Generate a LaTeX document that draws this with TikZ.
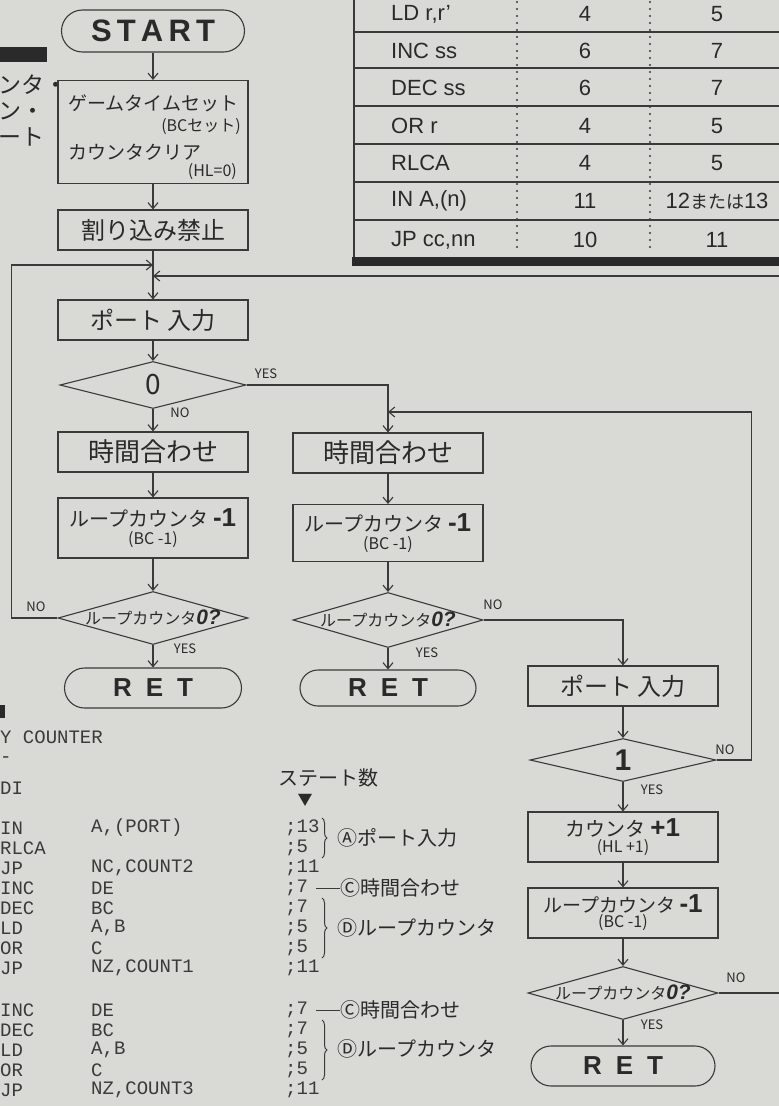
\documentclass[tikz,border=0pt]{standalone}
\usepackage{fontspec}
\setmainfont{Liberation Sans}
\newfontfamily\jpfont{Noto Sans CJK JP}
\newfontfamily\codefont{Liberation Mono}
\usetikzlibrary{positioning,arrows.meta,shapes.geometric,decorations.pathreplacing}
\definecolor{paper}{HTML}{D9D9D6}
\definecolor{ink}{HTML}{2A2A2A}
\definecolor{pen}{HTML}{3A3A3A}
\newcommand{\hvy}[1]{{\rmfamily\bfseries\fontsize{26}{26}\selectfont #1}}
\newcommand{\qhvy}[1]{{\rmfamily\bfseries\itshape\fontsize{21}{21}\selectfont #1}}
\newcommand{\subln}[1]{{\fontsize{16}{16}\selectfont #1}}
\tikzset{
  procbox/.style={draw=pen, line width=1.1pt, minimum width=190pt, minimum height=40pt,
    inner sep=2pt, align=center, text=ink, font=\jpfont\fontsize{24}{24}\selectfont},
  term/.style={draw=pen, line width=1.1pt, rounded corners=20pt, minimum height=40pt,
    text=ink, font=\rmfamily\bfseries\fontsize{26}{26}\selectfont},
  decide/.style={draw=pen, line width=1.1pt, diamond, inner sep=0pt},
  dtext/.style={text=ink, inner sep=0pt, font=\jpfont\fontsize{16}{16}\selectfont},
  flow/.style={-{Straight Barb[length=6pt,width=10pt]}, draw=pen, line width=1.1pt},
  yn/.style={font=\jpfont\fontsize{13}{13}\selectfont, text=ink, inner sep=1pt},
  cell/.style={font=\fontsize{22}{22}\selectfont, text=ink, inner sep=0pt},
  code/.style={font=\codefont\fontsize{19}{19}\selectfont, text=pen, inner sep=0pt, anchor=west},
  note/.style={font=\jpfont\fontsize{20}{20}\selectfont, text=ink, inner sep=0pt, anchor=west},
  brc/.style={draw=pen, line width=1pt, decorate, decoration={brace, amplitude=5pt}},
}
\begin{document}
\begin{tikzpicture}[x=1pt, y=-1pt]
\useasboundingbox (0,0) rectangle (779,1106);
\fill[paper] (0,0) rectangle (779,1106);
\clip (0,0) rectangle (779,1106);

% ------------------------------------------------------------- heading scraps
\fill[ink] (0,47) rectangle (47,62);
\node[note, font=\jpfont\fontsize{23}{23}\selectfont] (hd1) at (-2,85) {ンタ・};
\node[note, font=\jpfont\fontsize{23}{23}\selectfont] (hd2) at (-2,111) {ン・};
\node[note, font=\jpfont\fontsize{23}{23}\selectfont] (hd3) at (-2,137) {ート};

% ------------------------------------------------------------- state table
\draw[pen, line width=2pt] (354,-5) -- (354,262);
\foreach \y in {32,68,106,144,182,220}
  \draw[pen, line width=1.8pt] (354,\y) -- (790,\y);
\fill[ink] (352,257) rectangle (790,266);
\foreach \x in {517,650}
  \draw[pen, line width=2.4pt, line cap=round, dash pattern=on 0pt off 7pt] (\x,2) -- (\x,254);
\foreach \i/\y/\instr/\za/\zb in {
    0/14/{LD r,r’}/4/5,
    1/51/{INC ss}/6/7,
    2/88/{DEC ss}/6/7,
    3/126/{OR r}/4/5,
    4/163/RLCA/4/5,
    5/201/{IN A,(n)}/11/{12{\jpfont\fontsize{18}{18}\selectfont または}13},
    6/240/{JP cc,nn}/10/11} {
  \node[cell, anchor=west] (ins\i) at (391,\y) {\instr};
  \node[cell] (za\i) at (585,\y) {\za};
  \node[cell] (zb\i) at (717,\y) {\zb};
}

% ------------------------------------------------------------- main column
\node[term, minimum width=183pt, minimum height=42pt, rounded corners=21pt,
      font=\rmfamily\bfseries\fontsize{31}{31}\selectfont] (start) at (153,31) {S\,T\,A\,R\,T};
\node[procbox, minimum height=103pt] (setbox) at (153,132) {};
\node[note, font=\jpfont\fontsize{19}{19}\selectfont] (settxt) at (68,103) {ゲームタイムセット};
\node[note, font=\jpfont\fontsize{16}{16}\selectfont, anchor=east] (bcset) at (241,127) {(BCセット)};
\node[note, font=\jpfont\fontsize{19}{19}\selectfont] (clrtxt) at (68,152) {カウンタクリア};
\node[note, font=\jpfont\fontsize{16}{16}\selectfont, anchor=east] (hlclr) at (237,172) {(HL=0)};
\node[procbox] (dibox) at (153,230) {割り込み禁止};
\coordinate (joinA) at (153,265);
\coordinate (joinB) at (153,276);
\node[procbox] (portL) at (153,320) {ポート 入力};
\node[decide, minimum width=186pt, minimum height=47pt] (zeroq) at (153,385) {};
\node[dtext, font=\jpfont\fontsize{28}{28}\selectfont] (zerotxt) at (zeroq) {0};
\node[procbox, font=\jpfont\fontsize{26}{26}\selectfont] (adjL) at (153,452) {時間合わせ};
\node[procbox, minimum height=60pt, font=\jpfont\fontsize{20}{20}\selectfont] (loopL) at (153,528)
  {ループカウンタ \hvy{-1}\\[-2pt]\subln{(BC -1)}};
\node[decide, minimum width=190pt, minimum height=53pt] (endqL) at (153,618) {};
\node[dtext] (endqLtxt) at (endqL) {ループカウンタ\qhvy{0?}};
\node[term, minimum width=177pt] (retL) at (153,688) {R\hspace{14pt}E\hspace{14pt}T};

% ------------------------------------------------------------- middle column
\coordinate (joinC) at (388,412);
\node[procbox, font=\jpfont\fontsize{26}{26}\selectfont] (adjM) at (388,453) {時間合わせ};
\node[procbox, minimum height=57pt, font=\jpfont\fontsize{20}{20}\selectfont] (loopM) at (388,533)
  {ループカウンタ \hvy{-1}\\[-2pt]\subln{(BC -1)}};
\node[decide, minimum width=190pt, minimum height=55pt] (endqM) at (388,620) {};
\node[dtext] (endqMtxt) at (endqM) {ループカウンタ\qhvy{0?}};
\node[term, minimum width=176pt, minimum height=36pt, rounded corners=18pt] (retM) at (388,688)
  {R\hspace{14pt}E\hspace{14pt}T};

% ------------------------------------------------------------- right column
\node[procbox] (portR) at (623,686) {ポート 入力};
\node[decide, minimum width=186pt, minimum height=43pt] (oneq) at (623,760) {};
\node[dtext, font=\rmfamily\bfseries\fontsize{30}{30}\selectfont] (onetxt) at (oneq) {1};
\node[procbox, minimum height=50pt, inner sep=0pt, font=\jpfont\fontsize{20}{20}\selectfont] (incR) at (623,837)
  {カウンタ \hvy{+1}\\[-4pt]\subln{(HL +1)}};
\node[procbox, minimum height=50pt, inner sep=0pt, font=\jpfont\fontsize{19}{19}\selectfont] (loopR) at (623,913)
  {ループカウンタ \hvy{-1}\\[-4pt]\subln{(BC -1)}};
\node[decide, minimum width=190pt, minimum height=53pt] (endqR) at (623,993) {};
\node[dtext] (endqRtxt) at (endqR) {ループカウンタ\qhvy{0?}};
\node[term, minimum width=184pt] (retR) at (623,1066) {R\hspace{14pt}E\hspace{14pt}T};

% ------------------------------------------------------------- connectors
\draw[flow] (start) -- (setbox);
\draw[flow] (setbox) -- (dibox);
\draw[flow] (dibox) -- (portL);
\draw[flow] (portL) -- (zeroq);
\draw[flow] (zeroq) -- (adjL);
\draw[flow] (adjL) -- (loopL);
\draw[flow] (loopL) -- (endqL);
\draw[flow] (endqL) -- (retL);
\draw[flow] (endqL.west) -- ++(-46,0) |- (joinA);
\draw[flow] (zeroq.east) -| (adjM.north);
\draw[flow] (adjM) -- (loopM);
\draw[flow] (loopM) -- (endqM);
\draw[flow] (endqM) -- (retM);
\draw[flow] (endqM.east) -| (portR.north);
\draw[flow] (portR) -- (oneq);
\draw[flow] (oneq) -- (incR);
\draw[flow] (incR) -- (loopR);
\draw[flow] (loopR) -- (endqR);
\draw[flow] (endqR) -- (retR);
\draw[flow] (oneq.east) -- ++(35,0) |- (joinC);
\draw[flow] (endqR.east) -- ++(80,0) |- (joinB);

\node[yn] (yesA) at (266,374) {YES};
\node[yn] (noA) at (180,413) {NO};
\node[yn] (noB) at (36,607) {NO};
\node[yn] (yesB) at (185,649) {YES};
\node[yn] (noC) at (493,605) {NO};
\node[yn] (yesC) at (427,653) {YES};
\node[yn] (noD) at (725,750) {NO};
\node[yn] (yesD) at (652,790) {YES};
\node[yn] (noE) at (736,978) {NO};
\node[yn] (yesE) at (652,1025) {YES};

% ------------------------------------------------------------- listing
\fill[ink] (0,705) rectangle (5,718);
\node[code] (ttl) at (0,737) {Y COUNTER};
\node[code] (dash) at (0,760) {-};
\node[code] (di) at (0,788) {DI};
\foreach \i/\y/\mn/\opd/\nst in {
    1/828/IN/{A,(PORT)}/13,
    2/848/RLCA/{}/5,
    3/868/JP/{NC,COUNT2}/11,
    4/888/INC/DE/7,
    5/908/DEC/BC/7,
    6/928/LD/{A,B}/5,
    7/948/OR/C/5,
    8/968/JP/{NZ,COUNT1}/11,
    9/1010/INC/DE/7,
    10/1030/DEC/BC/7,
    11/1050/LD/{A,B}/5,
    12/1070/OR/C/5,
    13/1090/JP/{NZ,COUNT3}/11} {
  \node[code] (mn\i) at (0,\y) {\mn};
  \node[code] (opd\i) at (91,\y) {\opd};
  \node[code] (st\i) at (285,\y) {;\nst};
}

% state counts
\node[note] (sthead) at (278,778) {ステート数};
\node[note, font=\jpfont\fontsize{15}{15}\selectfont, anchor=center] (stmark) at (305,800) {▼};
\draw[brc] (322,818) -- (322,858);
\node[note] (lblA) at (337,838) {Ⓐポート入力};
\node[note] (lblC1) at (340,888) {Ⓒ時間合わせ};
\draw[pen, line width=1pt] (st4.east) ++(8,0) -- (lblC1.west);
\draw[brc] (322,898) -- (322,958);
\node[note] (lblD1) at (337,928) {Ⓓループカウンタ};
\node[note] (lblC2) at (340,1010) {Ⓒ時間合わせ};
\draw[pen, line width=1pt] (st9.east) ++(8,0) -- (lblC2.west);
\draw[brc] (322,1020) -- (322,1080);
\node[note] (lblD2) at (337,1049) {Ⓓループカウンタ};

\end{tikzpicture}
\end{document}
